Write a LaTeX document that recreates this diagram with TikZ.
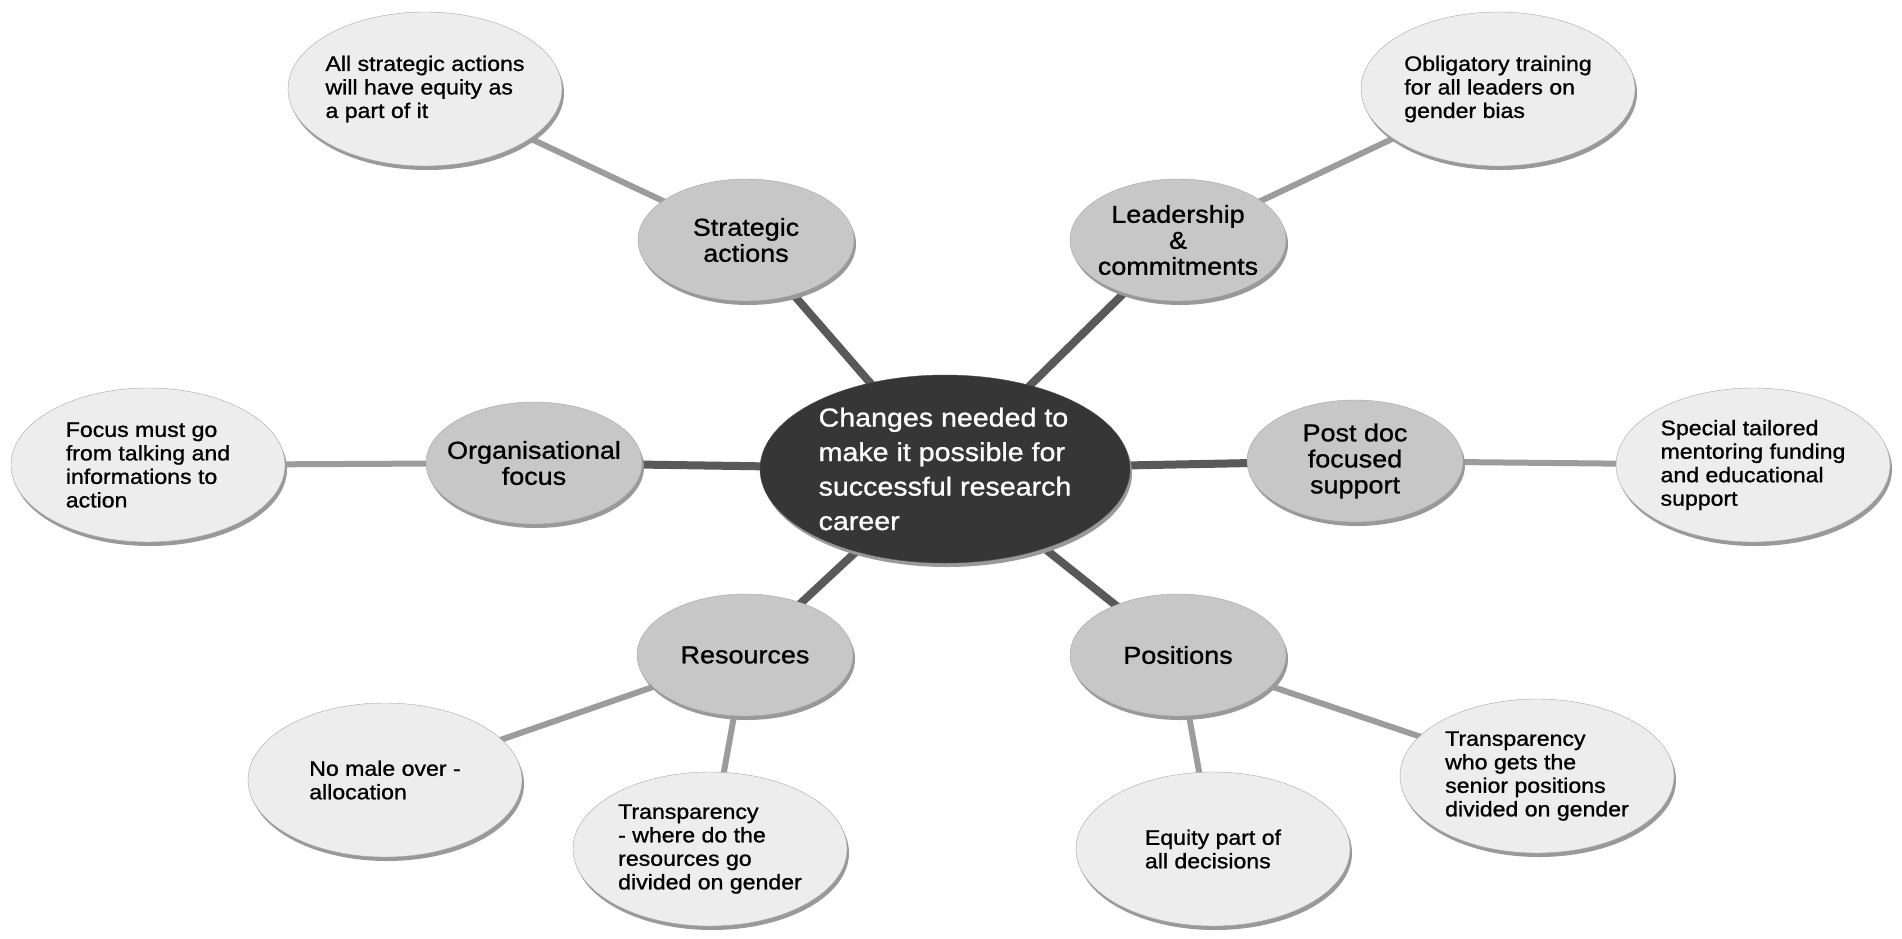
\documentclass[tikz,border=0pt]{standalone}
\usepackage{fontspec}
\setmainfont{Liberation Sans}[FakeStretch=1.1,FakeBold=1]
\usetikzlibrary{shapes.geometric,shadows,backgrounds,positioning}

\begin{document}
\begin{tikzpicture}[x=1pt,y=-1pt,
  shade/.style={drop shadow={shadow xshift=2pt,shadow yshift=-4pt,fill=black!40,opacity=1}},
  hub/.style={ellipse,shade,draw=black!70,fill=black!79,text=white,inner sep=-30pt,
    minimum width=370pt,minimum height=188pt,align=left,font=\fontsize{26}{34.5}\selectfont},
  topic/.style={ellipse,shade,draw=black!35,fill=black!22,inner sep=-30pt,
    minimum width=216pt,minimum height=122pt,align=center,font=\fontsize{24.5}{26}\selectfont},
  detail/.style={ellipse,shade,draw=black!35,fill=black!7,inner sep=-30pt,
    minimum width=274pt,minimum height=154pt,align=left,font=\fontsize{21}{23.5}\selectfont},
  spoke/.style={line width=8pt,draw=black!65},
  twig/.style={line width=6pt,draw=black!39}]
  \useasboundingbox (0,0) rectangle (1902,938);

  \node[hub] (hub) at (945,469) {Changes needed to\\make it possible for\\successful research\\career};

  \node[topic] (strat) at (746,240) {Strategic\\actions};
  \node[topic] (lead) at (1178,240) {Leadership\\\&\\commitments};
  \node[topic] (org) at (534,463) {Organisational\\focus};
  \node[topic] (postdoc) at (1355,461) {Post doc\\focused\\support};
  \node[topic] (res) at (745,655) {Resources};
  \node[topic] (pos) at (1178,655) {Positions};

  \node[detail] (allstrat) at (425,89) {All strategic actions\\will have equity as\\a part of it};
  \node[detail] (oblig) at (1498,89) {Obligatory training\\for all leaders on\\gender bias};
  \node[detail] (talk) at (148,465) {Focus must go\\from talking and\\informations to\\action};
  \node[detail] (mentor) at (1753,465) {Special tailored\\mentoring funding\\and educational\\support};
  \node[detail] (nomale) at (385,780) {No male over -\\allocation};
  \node[detail] (transres) at (710,849) {Transparency\\- where do the\\resources go\\divided on gender};
  \node[detail] (equity) at (1213,849) {Equity part of\\all decisions};
  \node[detail] (transpos) at (1537,776) {Transparency\\who gets the\\senior positions\\divided on gender};

  \begin{scope}[on background layer]
    \draw[spoke] (hub.center) -- (strat.center);
    \draw[spoke] (hub.center) -- (lead.center);
    \draw[spoke] (hub.center) -- (org.center);
    \draw[spoke] (hub.center) -- (postdoc.center);
    \draw[spoke] (hub.center) -- (res.center);
    \draw[spoke] (hub.center) -- (pos.center);
    \draw[twig] (strat.center) -- (allstrat.center);
    \draw[twig] (lead.center) -- (oblig.center);
    \draw[twig] (org.center) -- (talk.center);
    \draw[twig] (postdoc.center) -- (mentor.center);
    \draw[twig] (res.center) -- (nomale.center);
    \draw[twig] (res.center) -- (transres.center);
    \draw[twig] (pos.center) -- (equity.center);
    \draw[twig] (pos.center) -- (transpos.center);
  \end{scope}
\end{tikzpicture}
\end{document}
